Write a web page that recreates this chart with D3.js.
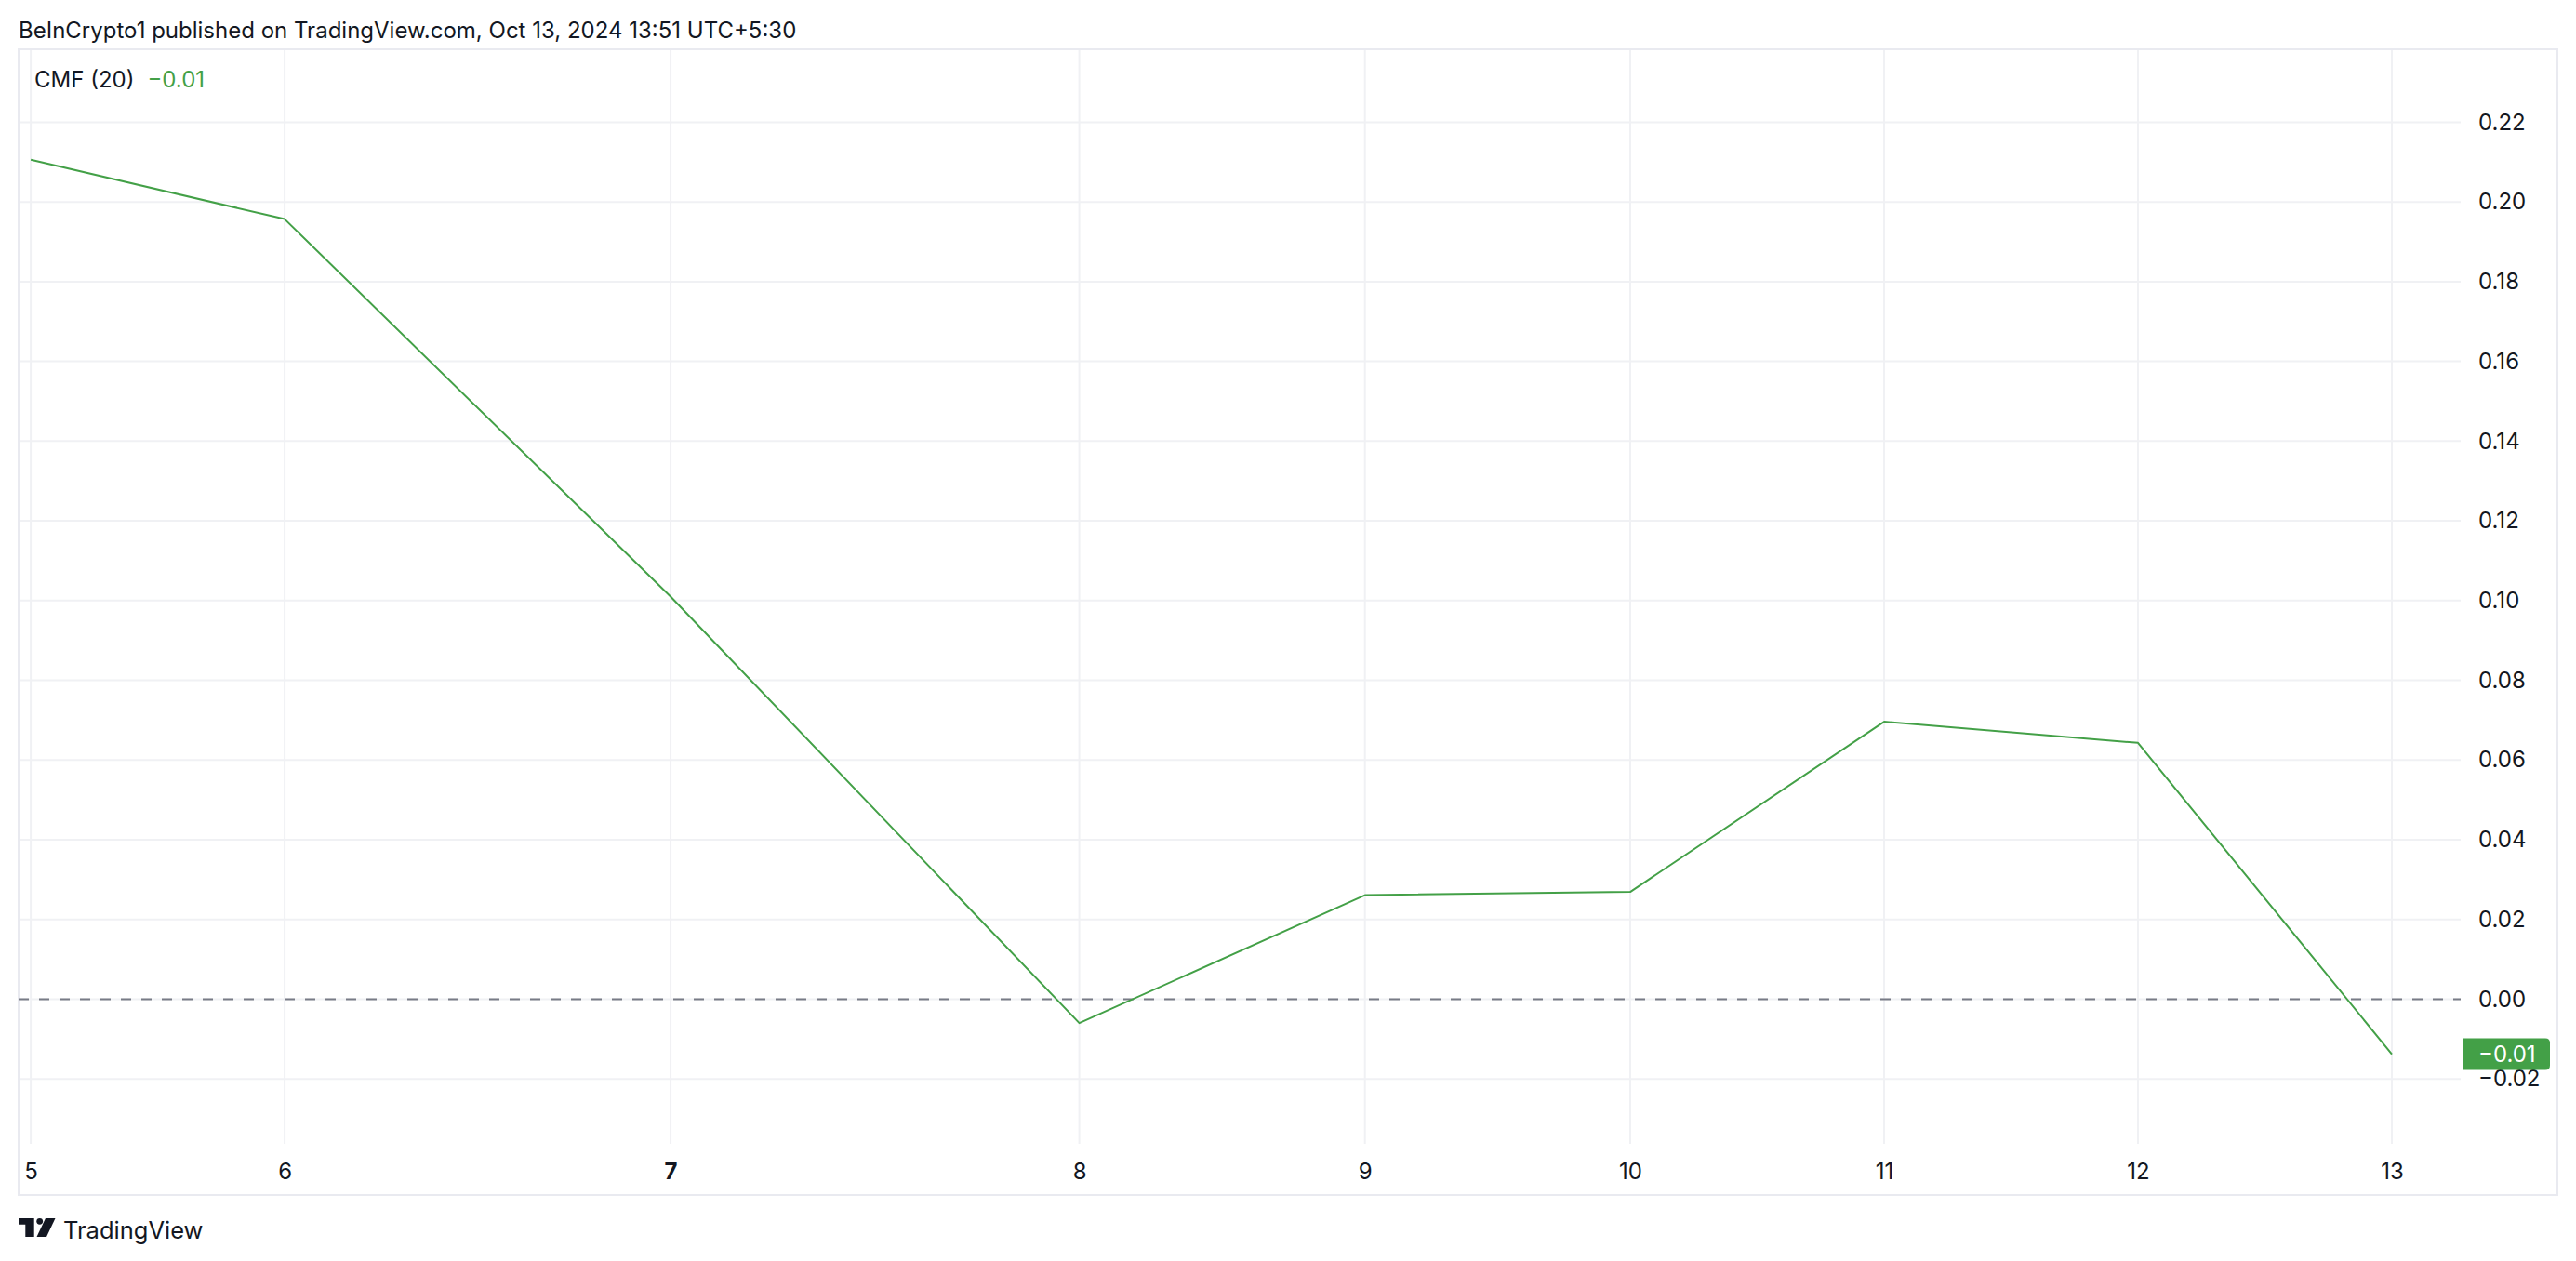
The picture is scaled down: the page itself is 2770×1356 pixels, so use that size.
<!DOCTYPE html>
<html>
<head>
<meta charset="utf-8">
<script src="https://cdn.jsdelivr.net/npm/d3@7"></script>
<style>
  html, body { margin: 0; padding: 0; background: #ffffff; }
  svg { display: block; }
  text { font-family: Inter, "Noto Sans", Roboto, sans-serif; }
</style>
</head>
<body>
<svg id="chart" width="2770" height="1356"></svg>
<script>
// ---- data ----
const dates = ["5", "6", "7", "8", "9", "10", "11", "12", "13"];
const boldDates = ["7"];
// position of each daily bar on the time scale (in bar units, from the picture)
const barOffset = [0, 1, 2.52, 4.13, 5.255, 6.30, 7.30, 8.30, 9.30];
const cmfValues = [0.2106, 0.1957, 0.101, -0.006, 0.0261, 0.0269, 0.0696, 0.0643, -0.0138];
const priceTicks = [-0.02, 0.00, 0.02, 0.04, 0.06, 0.08, 0.10, 0.12, 0.14, 0.16, 0.18, 0.20, 0.22];
const visibleBars = [-0.048, 9.571];
const visiblePrice = [-0.0363, 0.2383];
const headerText = "BeInCrypto1 published on TradingView.com, Oct 13, 2024 13:51 UTC+5:30";
const indicatorName = "CMF (20)";
const lastValueLabel = "−0.01";

// ---- layout ----
const W = 2770, H = 1356;
const frame = { left: 20, top: 53, right: 2750, bottom: 1285 };
const plot = { left: 20, top: 53, right: 2646, bottom: 1230 };
const GREEN = "#43A047", TEXT = "#131722", GRID = "#F0F1F4";

const svg = d3.select("#chart");
svg.append("rect").attr("width", W).attr("height", H).attr("fill", "#fff");

const x = d3.scaleLinear().domain(visibleBars).range([plot.left, plot.right]);
const y = d3.scaleLinear().domain(visiblePrice).range([plot.bottom, plot.top]);

const fmt = v => (v < -1e-9 ? "−" : "") + Math.abs(v).toFixed(2);

// header
svg.append("text").attr("x", 20).attr("y", 41)
  .attr("font-size", 24).attr("fill", TEXT).text(headerText);

// grid
const grid = svg.append("g");
grid.selectAll("line.h").data(priceTicks).join("line")
  .attr("x1", plot.left).attr("x2", plot.right)
  .attr("y1", d => y(d)).attr("y2", d => y(d))
  .attr("stroke", GRID).attr("stroke-width", 2);
grid.selectAll("line.v").data(barOffset).join("line")
  .attr("x1", d => x(d)).attr("x2", d => x(d))
  .attr("y1", plot.top).attr("y2", plot.bottom)
  .attr("stroke", GRID).attr("stroke-width", 2);

// frame
svg.append("rect")
  .attr("x", frame.left).attr("y", frame.top)
  .attr("width", frame.right - frame.left).attr("height", frame.bottom - frame.top)
  .attr("fill", "none").attr("stroke", "#E9EAF0").attr("stroke-width", 2);

// zero line
svg.append("line")
  .attr("x1", plot.left).attr("x2", plot.right)
  .attr("y1", y(0)).attr("y2", y(0))
  .attr("stroke", "#787B86").attr("stroke-width", 2)
  .attr("stroke-dasharray", "11,11");

// CMF line
const line = d3.line().x((d, i) => x(barOffset[i])).y(d => y(d));
svg.append("path").datum(cmfValues)
  .attr("d", line).attr("fill", "none")
  .attr("stroke", GREEN).attr("stroke-width", 2)
  .attr("stroke-linejoin", "round");

// price axis
const yAxis = d3.axisRight(y).tickValues(priceTicks).tickFormat(fmt).tickSize(0).tickPadding(19);
const gy = svg.append("g").attr("transform", `translate(${plot.right},0)`).call(yAxis);
gy.select(".domain").remove();
gy.selectAll("text").attr("font-size", 24).attr("font-family", "Inter, 'Noto Sans', sans-serif")
  .attr("fill", TEXT);

// time axis
const xAxis = d3.axisBottom(x).tickValues(barOffset).tickFormat((d, i) => dates[i]).tickSize(0).tickPadding(21);
const gx = svg.append("g").attr("transform", `translate(0,${plot.bottom})`).call(xAxis);
gx.select(".domain").remove();
gx.selectAll("text").attr("font-size", 24).attr("font-family", "Inter, 'Noto Sans', sans-serif")
  .attr("fill", TEXT)
  .attr("font-weight", (d, i) => boldDates.includes(dates[i]) ? 700 : 400);

// last value label on price axis
const lastV = cmfValues[cmfValues.length - 1];
const ly = y(lastV);
const bx0 = plot.right + 2, bx1 = 2742, bh = 34, r = 5;
svg.append("path")
  .attr("d", `M${bx0},${ly - bh / 2} H${bx1 - r} Q${bx1},${ly - bh / 2} ${bx1},${ly - bh / 2 + r} V${ly + bh / 2 - r} Q${bx1},${ly + bh / 2} ${bx1 - r},${ly + bh / 2} H${bx0} Z`)
  .attr("fill", GREEN);
svg.append("text").attr("x", plot.right + 19).attr("y", ly).attr("dy", "0.35em")
  .attr("font-size", 24).attr("fill", "#fff").text(lastValueLabel);

// legend
const lg = svg.append("text").attr("x", 37).attr("y", 94).attr("font-size", 24);
lg.append("tspan").attr("fill", TEXT).text(indicatorName);
lg.append("tspan").attr("fill", GREEN).attr("dx", 14).text(fmt(lastV));

// TradingView logo
const logo = svg.append("g").attr("fill", TEXT);
logo.append("path").attr("d", "M20,1310 H36.7 V1330 H27.3 V1316.7 H20 Z");
logo.append("circle").attr("cx", 42.7).attr("cy", 1313.3).attr("r", 3.4);
logo.append("path").attr("d", "M49,1310 H59.5 L50,1330 H39.5 Z");
svg.append("text").attr("x", 68).attr("y", 1332).attr("font-size", 25.5)
  .attr("fill", TEXT).text("TradingView");
</script>
</body>
</html>
